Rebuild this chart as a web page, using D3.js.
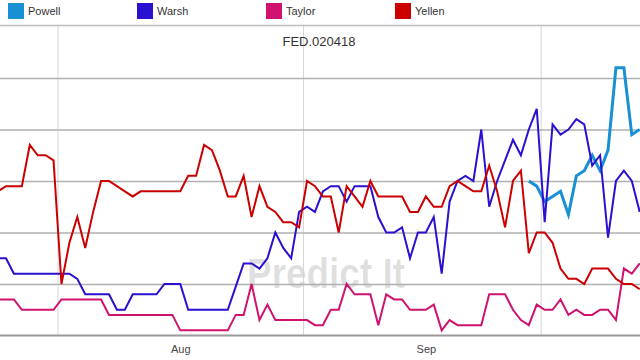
<!DOCTYPE html>
<html>
<head>
<meta charset="utf-8">
<script src="https://cdn.jsdelivr.net/npm/d3@7"></script>
<style>
  html, body { margin: 0; padding: 0; background: #fff; }
  svg { display: block; }
</style>
</head>
<body>
<svg id="chart" width="640" height="360"></svg>
<script>
// ---- data (PredictIt price, cents), one point per day ----
const firstDay = "2017-07-24";
const dayCount = 82;

const seriesNames = ["Powell", "Warsh", "Taylor", "Yellen"];
const seriesColors = ["#1a90d4", "#2a10d0", "#d0126f", "#cc0000"];

const yellen = [28, 29, 29, 29, 37, 35, 35, 34, 10, 18,
                23, 17, 24, 30, 30, 29, 28, 27, 28, 28,
                28, 28, 28, 28, 31, 31, 37, 36, 32, 27,
                27, 31, 23, 29, 25, 24, 22, 22, 21, 30,
                29, 27, 27, 20, 29, 27, 25, 30, 27, 27,
                27, 27, 24, 24, 27, 25, 25, 29, 30, 29,
                28, 28, 33, 28, 21, 30, 32, 16, 20, 20,
                18, 13, 11, 11, 10, 13, 13, 13, 11, 10,
                10, 9];

const warsh = [15, 15, 12, 12, 12, 12, 12, 12, 12, 12,
               11, 8, 8, 8, 8, 5, 5, 8, 8, 8,
               8, 10, 10, 10, 5, 5, 5, 5, 5, 5,
               9.5, 14, 14, 13, 15, 20, 17, 15, 24, 25,
               24, 28, 29, 29, 26, 29, 29, 29, 23, 20,
               20, 21, 15, 20, 20, 23, 12, 26, 30, 31,
               30, 40, 25, 30, 34, 38, 35, 40, 44, 22,
               41, 39, 40, 42, 41, 33, 35, 19, 30, 32,
               30, 24];

const taylor = [7, 7, 7, 5, 5, 5, 5, 5, 7, 7,
                7, 7, 7, 7, 4, 4, 4, 4, 4, 4,
                4, 4, 4, 1, 1, 1, 1, 1, 1, 1,
                4, 4, 10, 3, 6, 3, 3, 3, 3, 3,
                2, 2, 5, 5, 10, 8, 8, 8, 2, 8,
                7, 7, 5, 5, 5, 6, 1, 3, 2, 2,
                2, 2, 8, 8, 8, 5, 3, 2, 6, 5,
                5, 7, 4, 5, 4, 4, 5, 5, 3, 13,
                12, 14];

const powellStart = 67;
const powellValues = [30, 29, 26, 27, 28, 23.5, 31, 32, 35, 32, 36, 52, 52, 39, 40];

const monthLabels = ["Aug", "Sep"];
const titleText = "FED.020418";
const watermarkText = "Predict It";

// ---- build ----
const dates = d3.timeDay.range(d3.timeParse("%Y-%m-%d")(firstDay),
                               d3.timeDay.offset(d3.timeParse("%Y-%m-%d")(firstDay), dayCount))
                .map(d => d3.timeHour.offset(d, 12));
const powell = dates.map((d, i) => i >= powellStart ? powellValues[i - powellStart] : null);
const seriesValues = [powell, warsh, taylor, yellen];

const W = 640, H = 360;
const plotTop = 26, plotBottom = 335.5;

const svg = d3.select("#chart");

const x = d3.scaleTime()
  .domain([new Date(2017, 7, 1), new Date(2017, 9, 1)])
  .range([57.5, 540.7]);
const y = d3.scaleLinear().domain([0, 60]).range([plotBottom, 26.5]);

const defs = svg.append("defs");
defs.append("clipPath").attr("id", "plotClip")
  .append("rect").attr("x", 0).attr("y", plotTop).attr("width", W).attr("height", plotBottom - plotTop);

// watermark
svg.append("text")
  .attr("x", 247).attr("y", 288)
  .attr("font-family", "Liberation Sans, Arial, sans-serif")
  .attr("font-weight", "bold")
  .attr("font-size", 43)
  .attr("textLength", 158)
  .attr("lengthAdjust", "spacingAndGlyphs")
  .attr("fill", "#000")
  .attr("fill-opacity", 0.13)
  .text(watermarkText);

// vertical month gridlines
const vgrid = svg.append("g")
  .attr("transform", `translate(0,${plotBottom})`)
  .call(d3.axisBottom(x).ticks(d3.timeMonth.every(1)).tickSize(-(plotBottom - plotTop)).tickFormat(""));
vgrid.select(".domain").remove();
vgrid.selectAll(".tick line").attr("stroke", "#d6d6d6").attr("stroke-width", 1);

// horizontal gridlines
const hgrid = svg.append("g")
  .call(d3.axisLeft(y).tickValues([10, 20, 30, 40, 50]).tickSize(-W).tickFormat(""));
hgrid.select(".domain").remove();
hgrid.selectAll(".tick line").attr("stroke", "#b0b0b0").attr("stroke-width", 1.3);

// bottom axis
const monthMid = monthLabels.map((m, i) => new Date(2017, 7 + i, 16, 12));
const xAxis = svg.append("g")
  .attr("transform", `translate(0,${plotBottom})`)
  .call(d3.axisBottom(x).tickValues(monthMid).tickSize(0).tickPadding(10)
        .tickFormat((d, i) => monthLabels[i]));
xAxis.select(".domain").remove();
xAxis.selectAll("text")
  .attr("font-family", "Liberation Sans, Arial, sans-serif")
  .attr("font-size", 11)
  .attr("fill", "#444");
svg.append("line")
  .attr("x1", 0).attr("x2", W).attr("y1", y(0)).attr("y2", y(0))
  .attr("stroke", "#9a9a9a").attr("stroke-width", 2);

// lines
const line = d3.line()
  .defined(v => v != null)
  .x((v, i) => x(dates[i]))
  .y(v => y(v));

const lines = svg.append("g").attr("clip-path", "url(#plotClip)");
seriesValues.forEach((vals, k) => {
  lines.append("path")
    .datum(vals)
    .attr("fill", "none")
    .attr("stroke", seriesColors[k])
    .attr("stroke-width", k === 0 ? 3 : 2)
    .attr("d", line);
});

// legend
svg.append("line")
  .attr("x1", 0).attr("x2", W).attr("y1", 25.5).attr("y2", 25.5)
  .attr("stroke", "#bdbdbd").attr("stroke-width", 1.5);
const legend = svg.append("g");
seriesNames.forEach((name, k) => {
  const g = legend.append("g").attr("transform", `translate(${8 + k * 129},3)`);
  g.append("rect").attr("width", 16).attr("height", 16).attr("fill", seriesColors[k]);
  g.append("text")
    .attr("x", 20).attr("y", 12)
    .attr("font-family", "Liberation Sans, Arial, sans-serif")
    .attr("font-size", 11)
    .attr("fill", "#333")
    .text(name);
});

// title
svg.append("text")
  .attr("x", 319).attr("y", 46)
  .attr("text-anchor", "middle")
  .attr("font-family", "Liberation Sans, Arial, sans-serif")
  .attr("font-size", 13)
  .attr("fill", "#333")
  .text(titleText);
</script>
</body>
</html>
